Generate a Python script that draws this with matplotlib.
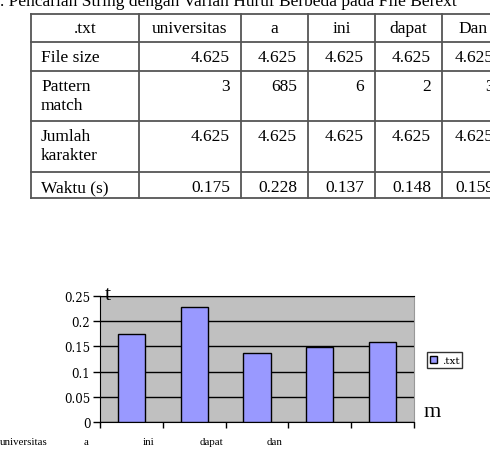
import matplotlib
matplotlib.use('Agg')
import matplotlib.pyplot as plt
import matplotlib.transforms as mtransforms

plt.rcParams['font.family'] = ['Liberation Serif', 'DejaVu Serif']

# data from the table
header = ['.txt', 'universitas', 'a', 'ini', 'dapat', 'Dan']
row_labels = ['File size', 'Pattern\nmatch', 'Jumlah\nkarakter', 'Waktu (s)']
file_size = ['4.625', '4.625', '4.625', '4.625', '4.625']
pattern_match = ['3', '685', '6', '2', '3']
jumlah_karakter = ['4.625', '4.625', '4.625', '4.625', '4.625']
waktu_txt = ['0.175', '0.228', '0.137', '0.148', '0.159']

# chart data
categories = ['universitas', 'a', 'ini', 'dapat', 'dan']
waktu = [0.175, 0.228, 0.137, 0.148, 0.159]

W, H = 490, 452
fig = plt.figure(figsize=(W / 100, H / 100), dpi=100)

# ---- table on top (pixel coordinates) ----
tab = fig.add_axes([0, 0, 1, 1])
tab.set_xlim(0, W)
tab.set_ylim(H, 0)
tab.axis('off')

col_x = [31, 139, 241, 308, 375, 442, 505]
row_y = [15, 43, 72, 122, 173, 199]
for x in col_x[:-1]:
    tab.plot([x, x], [row_y[0], row_y[-1]], color='#555555', lw=1.3)
for y in row_y:
    tab.plot([col_x[0], W], [y, y], color='#555555', lw=1.3)

tab.text(0, 6, '. Pencarian String dengan Varian Huruf Berbeda pada File Berext',
         fontsize=12.5, ha='left', va='baseline')

for i, h in enumerate(header):
    tab.text((col_x[i] + col_x[i + 1]) / 2, 29, h, fontsize=12.5,
             ha='center', va='center')

rows = [file_size, pattern_match, jumlah_karakter, waktu_txt]
for r, (lab, vals) in enumerate(zip(row_labels, rows)):
    top = row_y[r + 1] + 7
    tab.text(41, top, lab, fontsize=12.5, ha='left', va='top', linespacing=1.25)
    for c, v in enumerate(vals):
        tab.text(col_x[c + 2] - 11, top, v, fontsize=12.5, ha='right', va='top')

# ---- bar chart ----
left, right, top_px, bottom_px = 100, 414, 297, 423
ax = fig.add_axes([left / W, (H - bottom_px) / H,
                   (right - left) / W, (bottom_px - top_px) / H])
ax.set_facecolor('#C0C0C0')
x = list(range(len(categories)))
ax.bar(x, waktu, width=0.43, color='#9999FF', edgecolor='black', lw=1,
       label='.txt', zorder=3)
ax.set_xlim(-0.5, len(categories) - 0.5)
ax.set_ylim(0, 0.25)
ax.set_yticks([0, 0.05, 0.1, 0.15, 0.2, 0.25])
ax.set_yticklabels(['0', '0.05', '0.1', '0.15', '0.2', '0.25'])
ax.yaxis.grid(True, color='black', lw=1, zorder=1)
ax.set_axisbelow(True)
ax.set_xticks([i - 0.5 for i in range(len(categories) + 1)])
ax.set_xticklabels([])
ax.tick_params(axis='x', direction='out', length=4, width=1, color='black')
ax.tick_params(axis='y', direction='out', length=5, width=1, color='black',
               pad=2)
for lab in ax.get_yticklabels():
    lab.set_fontfamily('DejaVu Serif')
    lab.set_fontsize(8.5)
ax.spines['left'].set_color('black')
ax.spines['bottom'].set_color('black')
ax.spines['top'].set_color('black')
ax.spines['right'].set_color('#999999')

# shifted category labels below the axis
trans = mtransforms.blended_transform_factory(ax.transData, fig.transFigure)
for i, c in enumerate(categories):
    ax.text(i - 1.72, (H - 443) / H, c, transform=trans, fontsize=7.8,
            ha='center', va='center', clip_on=False)

fig.text(105 / W, 1 - 296 / H, 't', fontsize=16, ha='left', va='center')
fig.text(424 / W, 1 - 413 / H, 'm', fontsize=16, ha='left', va='center')

leg = ax.legend(loc='center left', bbox_to_anchor=(1.025, 0.49), frameon=True,
                fancybox=False, edgecolor='black', handlelength=0.7,
                handleheight=0.7, handletextpad=0.4, borderpad=0.3,
                prop={'family': 'DejaVu Serif', 'size': 7.5})
leg.get_frame().set_linewidth(1)

fig.savefig('out.png', dpi=100)
